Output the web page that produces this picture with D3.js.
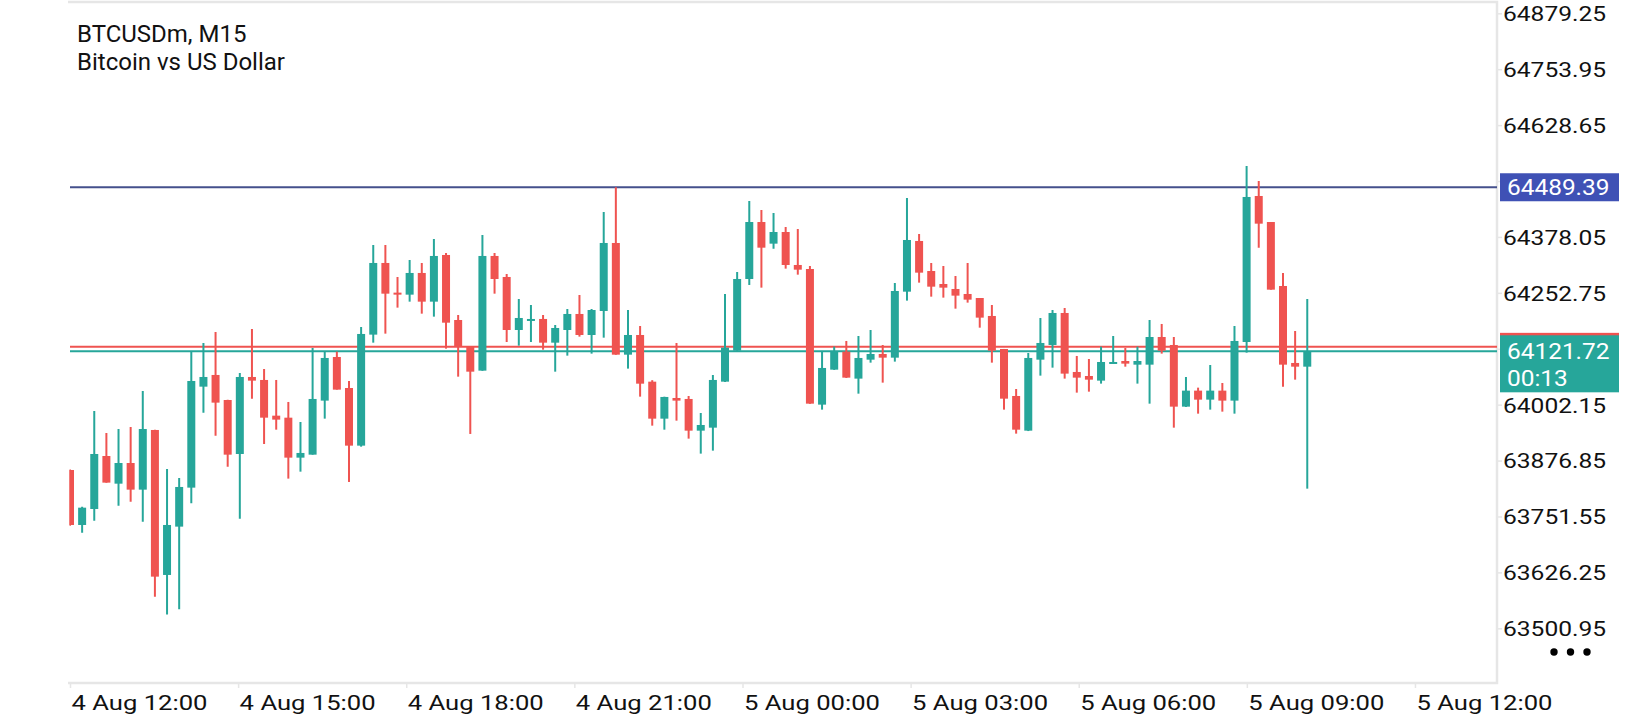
<!DOCTYPE html>
<html>
<head>
<meta charset="utf-8">
<script src="https://cdn.jsdelivr.net/npm/d3@7"></script>
<style>
  html, body { margin: 0; padding: 0; background: #fff; }
  svg { display: block; font-family: Roboto, "Noto Sans", sans-serif; }
</style>
</head>
<body>
<div id="chart"></div>
<script>
// candle data (M15 bars, left to right)
var opens = [63855.7, 63732.5, 63768.3, 63887.1, 63825.1, 63871.4, 63811.7, 63945.4, 63620.5, 63728.8,
  63816.2, 64042.5, 64068.7, 64012.6, 63891.6, 64064.2, 64057.5, 63977.5, 63973.0, 63883.4,
  63890.1, 64011.2, 64109.0, 64039.5, 63910.3, 64159.1, 64319.7, 64253.2, 64248.7, 64297.3,
  64233.0, 64337.6, 64191.9, 64132.2, 64078.4, 64335.4, 64288.3, 64169.5, 64190.4, 64194.2,
  64141.1, 64169.5, 64205.4, 64158.3, 64212.1, 64364.5, 64114.2, 64158.3, 64053.7, 63970.8,
  64017.1, 64014.9, 63943.9, 63950.6, 64053.7, 64123.2, 64283.8, 64411.5, 64363.0, 64389.1,
  64315.2, 64306.2, 64002.2, 64080.6, 64121.0, 64060.5, 64103.0, 64115.7, 64107.5, 64255.4,
  64369.0, 64301.7, 64272.6, 64261.4, 64250.2, 64241.2, 64200.9, 64126.9, 64021.6, 63943.9,
  64103.0, 64135.9, 64207.6, 64075.4, 64066.4, 64056.0, 64094.1, 64100.0, 64091.8, 64091.8,
  64153.8, 64135.9, 63997.7, 64033.6, 64013.4, 64033.6, 64011.2, 64142.6, 64469.8, 64411.5,
  64268.1, 64095.6, 64087.3];
var highs = [63857.0, 63773.5, 63988.0, 63938.7, 63947.6, 63952.1, 64032.8, 63946.0, 63858.0, 63837.9,
  64121.0, 64140.4, 64165.0, 64013.0, 64073.1, 64171.7, 64082.1, 64057.5, 64008.2, 63963.3,
  64129.2, 64121.0, 64121.0, 64055.2, 64176.2, 64360.0, 64360.0, 64288.3, 64326.4, 64319.7,
  64373.5, 64342.1, 64203.1, 64132.2, 64382.4, 64342.1, 64295.0, 64239.0, 64225.5, 64203.1,
  64180.7, 64216.6, 64247.9, 64216.6, 64434.0, 64489.4, 64214.3, 64178.5, 64057.0, 64020.0,
  64140.4, 64021.6, 63983.5, 64068.7, 64250.2, 64299.5, 64458.6, 64438.4, 64431.7, 64400.3,
  64395.9, 64312.9, 64122.5, 64132.2, 64144.9, 64156.1, 64169.5, 64135.9, 64274.8, 64465.3,
  64384.7, 64319.7, 64312.9, 64290.5, 64319.7, 64241.2, 64225.5, 64127.0, 64037.3, 64118.0,
  64196.4, 64214.3, 64218.8, 64111.3, 64104.5, 64132.2, 64156.1, 64129.2, 64132.2, 64191.9,
  64183.0, 64153.8, 64064.2, 64040.3, 64091.1, 64050.7, 64178.5, 64537.0, 64503.4, 64411.5,
  64297.3, 64167.3, 64239.0];
var lows = [63731.0, 63715.3, 63742.2, 63827.0, 63775.8, 63784.8, 63739.9, 63571.9, 63531.6, 63543.5,
  63781.1, 63984.3, 63932.7, 63863.2, 63746.7, 64015.6, 63914.0, 63946.1, 63836.4, 63852.0,
  63890.0, 63970.8, 64035.8, 63828.9, 63908.0, 64141.1, 64161.3, 64219.6, 64233.0, 64206.1,
  64199.4, 64127.7, 64064.9, 63936.5, 64078.0, 64250.9, 64142.6, 64134.4, 64142.6, 64125.4,
  64076.1, 64112.0, 64154.6, 64116.5, 64152.3, 64114.0, 64082.9, 64020.1, 63955.1, 63946.1,
  63966.3, 63926.0, 63892.4, 63899.1, 64053.0, 64123.0, 64270.4, 64264.4, 64351.8, 64307.0,
  64293.5, 64004.0, 63991.0, 64080.0, 64062.0, 64026.8, 64096.3, 64051.5, 64098.6, 64235.3,
  64275.6, 64244.2, 64242.0, 64217.3, 64230.8, 64174.7, 64096.3, 63991.0, 63937.2, 63943.0,
  64067.2, 64085.1, 64060.5, 64029.1, 64031.3, 64049.3, 64094.0, 64087.3, 64049.3, 64004.4,
  64116.5, 63950.6, 63997.0, 63982.0, 63991.0, 63986.5, 63982.0, 64118.7, 64354.0, 64259.9,
  64042.5, 64058.2, 63813.9];
var closes = [63732.5, 63771.3, 63891.6, 63827.4, 63871.4, 63811.7, 63947.6, 63616.7, 63732.5, 63817.7,
  64055.2, 64064.2, 64006.7, 63890.1, 64064.2, 64056.0, 63973.0, 63968.6, 63883.4, 63893.9,
  64014.9, 64106.8, 64035.8, 63910.3, 64160.6, 64319.7, 64250.9, 64250.9, 64297.3, 64233.0,
  64335.4, 64185.9, 64132.2, 64076.1, 64335.4, 64283.8, 64169.5, 64196.4, 64194.2, 64141.1,
  64174.0, 64205.4, 64158.3, 64214.3, 64364.5, 64114.2, 64158.3, 64049.2, 63970.8, 64019.4,
  64011.2, 63943.9, 63956.6, 64057.5, 64129.9, 64283.8, 64411.5, 64354.0, 64389.1, 64315.2,
  64304.7, 64004.4, 64084.4, 64122.5, 64062.7, 64106.8, 64115.7, 64107.5, 64256.9, 64371.2,
  64298.0, 64266.6, 64264.4, 64246.5, 64237.5, 64197.2, 64123.2, 64015.6, 63946.1, 64106.8,
  64140.4, 64207.6, 64071.7, 64062.7, 64058.2, 64097.8, 64097.8, 64094.1, 64100.0, 64153.8,
  64123.2, 63997.7, 64033.6, 64013.4, 64033.6, 64011.2, 64144.9, 64467.6, 64407.8, 64259.9,
  64091.8, 64087.3, 64121.72];

var priceTicks = [64879.25, 64753.95, 64628.65, 64503.35, 64378.05, 64252.75,
                  64127.45, 64002.15, 63876.85, 63751.55, 63626.25, 63500.95];
var timeLabels = ["4 Aug 12:00", "4 Aug 15:00", "4 Aug 18:00", "4 Aug 21:00", "5 Aug 00:00",
                  "5 Aug 03:00", "5 Aug 06:00", "5 Aug 09:00", "5 Aug 12:00"];
var candlesPerLabel = 13.86;   // the app spaces its time labels a bit wider than 12 bars

var highLine = 64489.39;
var bidPrice = 64121.72;
var askPrice = 64131.72;
var countdown = "00:13";
var titleLines = ["BTCUSDm, M15", "Bitcoin vs US Dollar"];

var UP = "#26a69a", DOWN = "#ef5350", HIGH_LINE = "#45508c", HIGH_BOX = "#3f51b5", FRAME = "#e6e6e6";

var W = 1640, H = 720;
var plot = {left: 68, right: 1497, top: 2, bottom: 683};

var svg = d3.select("#chart")
            .append("svg")
              .attr("width", W)
              .attr("height", H);

var n = closes.length;
var x = d3.scaleLinear()
          .domain([0, n - 1])
          .range([70, 70 + 12.13 * (n - 1)]);
var y = d3.scaleLinear()
          .domain([63500.95, 64879.25])
          .range([628.3, 13.3]);

// stretch text horizontally like the app's wide axis font
function stretch(sel, k) {
  sel.each(function() {
    var len = this.getComputedTextLength();
    d3.select(this)
      .attr("textLength", len * k)
      .attr("lengthAdjust", "spacingAndGlyphs");
  });
}

// a tick label sitting under one of the price tags is not shown
function underTag(v) {
  return Math.abs(y(v) - y(highLine)) < 18 || Math.abs(y(v) - y(bidPrice)) < 18;
}

svg.append("clipPath")
    .attr("id", "plotclip")
  .append("rect")
    .attr("x", 69.5)
    .attr("y", plot.top)
    .attr("width", plot.right - 69.5)
    .attr("height", plot.bottom - plot.top);

// frame: top, right, bottom
svg.append("path")
    .attr("d", "M" + plot.left + "," + plot.top + "H" + plot.right + "V" + plot.bottom + "H" + plot.left)
    .attr("fill", "none")
    .attr("stroke", FRAME)
    .attr("stroke-width", 2.5);

// title
svg.selectAll(".title")
    .data(titleLines)
  .enter().append("text")
    .attr("class", "title")
    .attr("x", 77)
    .attr("y", function(d, i) { return 42 + i * 28; })
    .attr("font-size", "24px")
    .attr("fill", "#111")
    .text(function(d) { return d; });

var bars = d3.range(n).map(function(i) {
  return {i: i, o: opens[i], h: highs[i], l: lows[i], c: closes[i]};
});

var g = svg.append("g").attr("clip-path", "url(#plotclip)");

// level lines
g.append("line")
    .attr("x1", 70).attr("x2", plot.right)
    .attr("y1", y(highLine)).attr("y2", y(highLine))
    .attr("stroke", HIGH_LINE).attr("stroke-width", 2);
g.append("line")
    .attr("x1", 70).attr("x2", plot.right)
    .attr("y1", y(askPrice)).attr("y2", y(askPrice))
    .attr("stroke", DOWN).attr("stroke-width", 2);
g.append("line")
    .attr("x1", 70).attr("x2", plot.right)
    .attr("y1", y(bidPrice)).attr("y2", y(bidPrice))
    .attr("stroke", UP).attr("stroke-width", 2);

// wicks
g.selectAll(".wick")
    .data(bars)
  .enter().append("line")
    .attr("class", "wick")
    .attr("x1", function(d) { return x(d.i); })
    .attr("x2", function(d) { return x(d.i); })
    .attr("y1", function(d) { return y(d.h); })
    .attr("y2", function(d) { return y(d.l); })
    .attr("stroke", function(d) { return d.c >= d.o ? UP : DOWN; })
    .attr("stroke-width", 2);

// bodies
g.selectAll(".body")
    .data(bars)
  .enter().append("rect")
    .attr("class", "body")
    .attr("x", function(d) { return x(d.i) - 4; })
    .attr("width", 8)
    .attr("y", function(d) { return y(Math.max(d.o, d.c)); })
    .attr("height", function(d) { return Math.max(2, Math.abs(y(d.o) - y(d.c))); })
    .attr("fill", function(d) { return d.c >= d.o ? UP : DOWN; });

// right price axis
var yAxis = svg.append("g")
    .attr("transform", "translate(" + plot.right + ",0)")
    .call(d3.axisRight(y)
            .tickValues(priceTicks)
            .tickFormat(function(d) { return underTag(d) ? "" : d3.format(".2f")(d); })
            .tickSize(5)
            .tickPadding(1));
yAxis.select(".domain").remove();
yAxis.selectAll(".tick line").attr("stroke", FRAME).attr("stroke-width", 1.5);
yAxis.selectAll(".tick text")
    .filter(function(d) { return underTag(d); })
    .remove();
yAxis.selectAll(".tick text")
    .attr("x", 6)
    .attr("dy", "0.35em")
    .attr("font-size", "21px")
    .attr("font-family", "Roboto")
    .attr("fill", "#111")
    .call(stretch, 1.17);

// bottom time axis
var xAxis = svg.append("g")
    .attr("transform", "translate(0," + plot.bottom + ")")
    .call(d3.axisBottom(x)
            .tickValues(timeLabels.map(function(d, i) { return i * candlesPerLabel; }))
            .tickFormat(function(d, i) { return timeLabels[i]; })
            .tickSize(5));
xAxis.select(".domain").remove();
xAxis.selectAll(".tick line").attr("stroke", FRAME).attr("stroke-width", 1.5);
xAxis.selectAll(".tick text")
    .attr("text-anchor", "start")
    .attr("x", 1)
    .attr("y", 27)
    .attr("dy", 0)
    .attr("font-size", "21px")
    .attr("font-family", "Roboto")
    .attr("fill", "#111")
    .call(stretch, 1.22);

// price tags on the right
svg.append("rect")
    .attr("x", 1500).attr("width", 119)
    .attr("y", y(highLine) - 14).attr("height", 28)
    .attr("fill", HIGH_BOX);
svg.append("text")
    .attr("x", 1507).attr("y", y(highLine)).attr("dy", "0.36em")
    .attr("font-size", "22px").attr("fill", "#fff")
    .text(highLine.toFixed(2))
    .call(stretch, 1.11);

svg.append("rect")
    .attr("x", 1500).attr("width", 119)
    .attr("y", y(askPrice) - 14).attr("height", 28)
    .attr("fill", DOWN);
svg.append("rect")
    .attr("x", 1500).attr("width", 119)
    .attr("y", y(bidPrice) - 16).attr("height", 57)
    .attr("fill", UP);
svg.append("text")
    .attr("x", 1507).attr("y", y(bidPrice)).attr("dy", "0.36em")
    .attr("font-size", "22px").attr("fill", "#fff")
    .text(bidPrice.toFixed(2))
    .call(stretch, 1.11);
svg.append("text")
    .attr("x", 1507).attr("y", y(bidPrice) + 27).attr("dy", "0.36em")
    .attr("font-size", "22px").attr("fill", "#fff")
    .text(countdown)
    .call(stretch, 1.11);

// menu dots
svg.selectAll(".dot")
    .data([0, 1, 2])
  .enter().append("circle")
    .attr("class", "dot")
    .attr("cx", function(d) { return 1554 + d * 16.5; })
    .attr("cy", 652)
    .attr("r", 3.7)
    .attr("fill", "#000");
</script>
</body>
</html>
